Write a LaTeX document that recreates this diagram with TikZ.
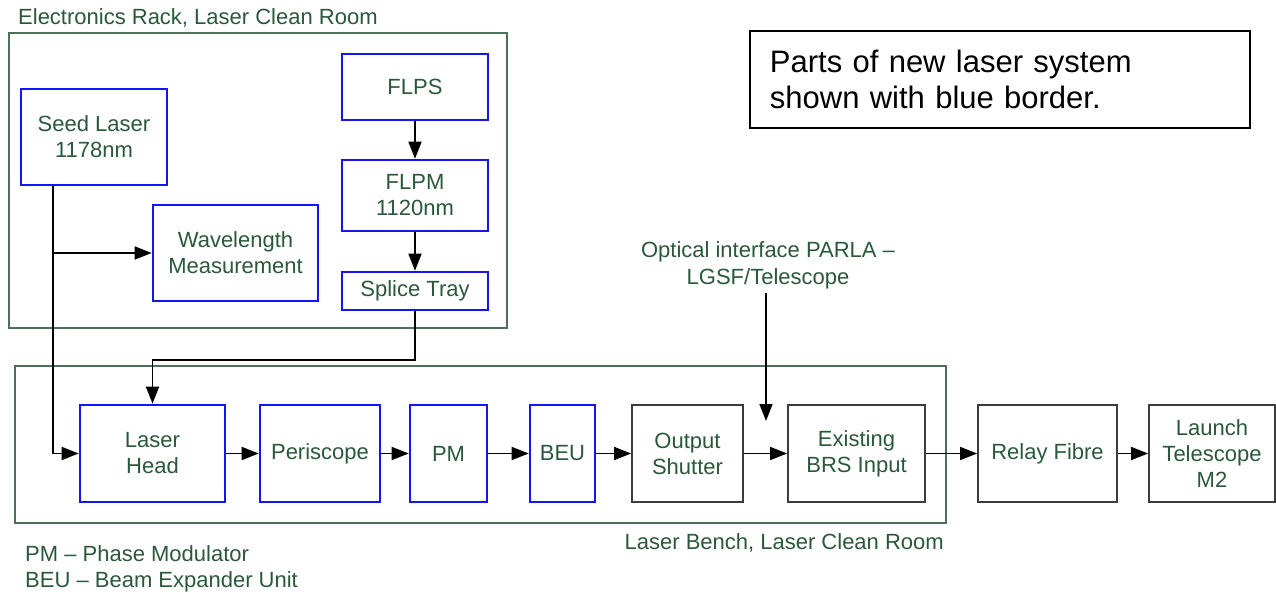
\documentclass[tikz,border=0pt]{standalone}
\usepackage{fontspec}
\setmainfont{Liberation Sans}
\usetikzlibrary{arrows.meta}
\definecolor{txtgreen}{RGB}{42,88,58}
\definecolor{zonegreen}{RGB}{78,112,88}
\definecolor{newblue}{RGB}{20,20,245}
\definecolor{oldgrey}{RGB}{60,60,60}
\tikzset{
  base/.style={font=\fontsize{22}{26}\selectfont, text=txtgreen, align=center, inner sep=0pt},
  newpart/.style={base, draw=newblue, line width=2.6pt},
  oldpart/.style={base, draw=oldgrey, line width=1.8pt},
  zone/.style={draw=zonegreen, line width=1.6pt, inner sep=0pt},
  lbl/.style={base},
  arr/.style={draw=black, line width=1.6pt, -{Triangle[length=17pt,width=13pt]}},
  notebox/.style={draw=black, line width=1.8pt, font=\fontsize{31}{36}\selectfont,
    text=black, align=left, text width=460pt, inner xsep=20pt, minimum height=97pt}
}
\begin{document}
\begin{tikzpicture}[x=1pt, y=-1pt]
\useasboundingbox (0,0) rectangle (1276,594);

% rooms
\node[zone, minimum width=498pt, minimum height=295pt] (rack) at (258,180.5) {};
\node[lbl, anchor=base west] (racklbl) at (18,25) {Electronics Rack, Laser Clean Room};
\node[zone, minimum width=931pt, minimum height=157pt] (bench) at (480.5,444.5) {};
\node[lbl, anchor=base east] (benchlbl) at (944,549) {Laser Bench, Laser Clean Room};

% electronics rack units
\node[newpart, minimum width=146pt, minimum height=96pt] (seed) at (94,137) {Seed Laser\\1178nm};
\node[newpart, minimum width=165pt, minimum height=96pt] (wave) at (235.5,253) {Wavelength\\Measurement};
\node[newpart, minimum width=146pt, minimum height=66pt] (flps) at (415,87) {FLPS};
\node[newpart, minimum width=146pt, minimum height=71pt] (flpm) at (415,195.5) {FLPM\\1120nm};
\node[newpart, minimum width=146pt, minimum height=38pt] (splice) at (415,291) {Splice Tray};

% bench chain
\node[newpart, minimum width=145pt, minimum height=97pt] (head) at (152.5,453.5) {Laser\\Head};
\node[newpart, minimum width=120pt, minimum height=97pt] (peri) at (320,453.5) {Periscope};
\node[newpart, minimum width=77pt, minimum height=97pt] (pm) at (448.5,453.5) {PM};
\node[newpart, minimum width=65pt, minimum height=97pt] (beu) at (562.5,453.5) {BEU};
\node[oldpart, minimum width=111pt, minimum height=97pt] (shut) at (687.5,453.5) {Output\\Shutter};
\node[oldpart, minimum width=137pt, minimum height=97pt] (brs) at (856.5,453.5) {Existing\\BRS Input};
\node[oldpart, minimum width=139pt, minimum height=97pt] (relay) at (1047.5,453.5) {Relay Fibre};
\node[oldpart, minimum width=126pt, minimum height=97pt] (launch) at (1212,453.5) {Launch\\Telescope\\M2};

% interface annotation
\node[lbl, font=\fontsize{22}{27}\selectfont] (optical) at (768,265) {Optical interface PARLA --\\LGSF/Telescope};
\coordinate (optin) at (766,421);

% note and abbreviations
\node[notebox, anchor=north west] (note) at (749,30) {Parts of new laser system\\shown with blue border.};
\node[lbl, anchor=north west, align=left] (abbr) at (25,545) {PM -- Phase Modulator\\BEU -- Beam Expander Unit};

% connectors
\coordinate (seedtap) at ([xshift=-41pt]seed.south);
\draw[arr] (seedtap) |- (head.west);
\draw[arr] (seedtap |- wave.west) -- (wave.west);
\draw[arr] (flps) -- (flpm);
\draw[arr] (flpm) -- (splice);
\coordinate (jog) at (415,360);
\draw[arr] (splice.south) -- (jog) -| (head.north);
\draw[arr] (head) -- (peri);
\draw[arr] (peri) -- (pm);
\draw[arr] (pm) -- (beu);
\draw[arr] (beu) -- (shut);
\draw[arr] (shut) -- (brs);
\draw[arr] (brs) -- (relay);
\draw[arr] (relay) -- (launch);
\draw[arr] (optin |- optical.south) ++(0,4) -- (optin);
\end{tikzpicture}
\end{document}
